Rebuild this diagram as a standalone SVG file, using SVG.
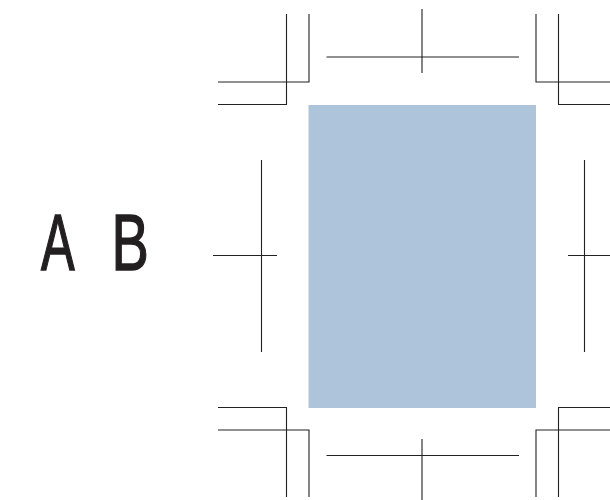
<svg xmlns="http://www.w3.org/2000/svg" width="610" height="500" viewBox="0 0 610 500">
<style>
.l{fill:none;stroke:#222;stroke-width:1.1}
.t{font-family:"Liberation Sans",Arial,sans-serif;font-size:80px;fill:#231f20;stroke:#231f20;stroke-width:1.300;vector-effect:non-scaling-stroke}
</style>
<rect width="610" height="500" fill="#fff"/>
<g id="plate"><rect x="308.500" y="105" width="227.500" height="303" fill="#aec4db"/></g>
<g id="label-a"><text class="t" transform="translate(41 269.500) scale(0.63 1)">A</text></g>
<g id="label-b"><text class="t" transform="translate(111.500 269.500) scale(0.7 1)">B</text></g>
<g id="connectors">
<path class="l" d="M286.500 14V104.500H218M309 14V82H218"/>
<path class="l" d="M536 14V82H610M558.500 14V104.500H610"/>
<path class="l" d="M218 407.500H286.500V497M218 430H309V497"/>
<path class="l" d="M610 407.500H558.500V497M610 430H536V497"/>
<path class="l" d="M326.500 57H519M422 9V73"/>
<path class="l" d="M326.500 455.500H519M422 439V500"/>
<path class="l" d="M213 255.500H277M261.500 160V352"/>
<path class="l" d="M568 255.500H610M584.500 160V352"/>
</g>
</svg>
